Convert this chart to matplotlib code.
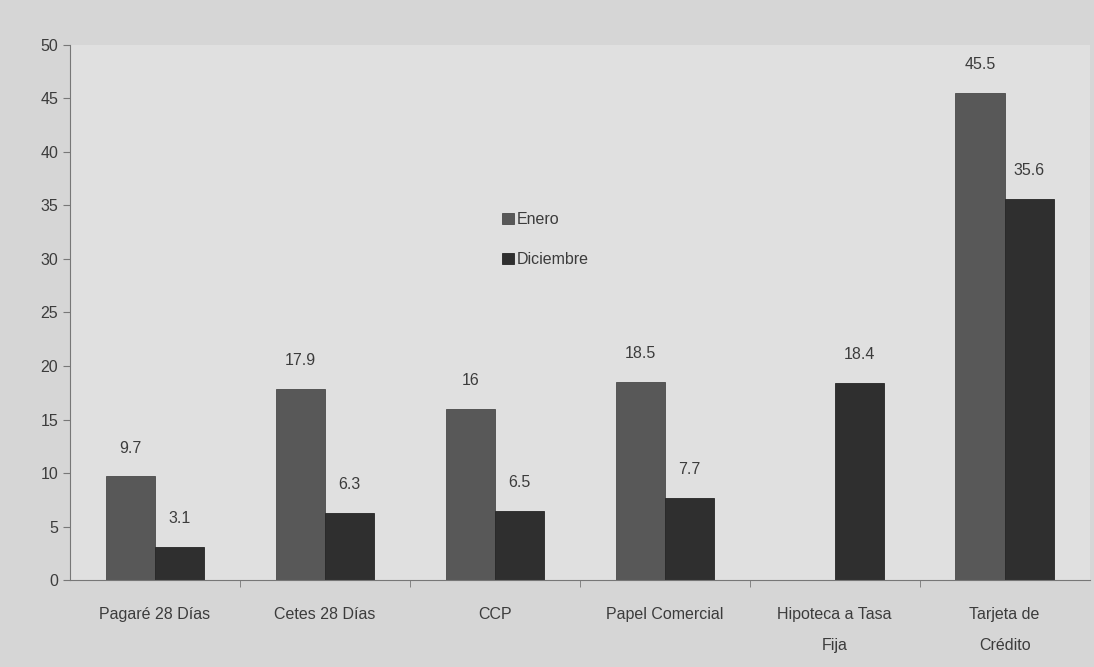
import numpy as np
import matplotlib.pyplot as plt

categories = ["Pagaré 28 Días", "Cetes 28 Días", "CCP", "Papel Comercial",
              "Hipoteca a Tasa\nFija", "Tarjeta de\nCrédito"]
enero = [9.7, 17.9, 16, 18.5, np.nan, 45.5]
diciembre = [3.1, 6.3, 6.5, 7.7, 18.4, 35.6]
enero_labels = ["9.7", "17.9", "16", "18.5", "", "45.5"]
diciembre_labels = ["3.1", "6.3", "6.5", "7.7", "18.4", "35.6"]

plt.rcParams['font.family'] = ['Liberation Sans', 'DejaVu Sans']

fig = plt.figure(figsize=(10.94, 6.67), dpi=100, facecolor='#d6d6d6')
ax = fig.add_axes([0.064, 0.13, 0.932, 0.803])
ax.set_facecolor('#e0e0e0')

x = np.arange(len(categories))
w = 0.29
b1 = ax.bar(x - w / 2, enero, w, color='#585858', edgecolor='#4a4a4a', linewidth=0.6, label='Enero')
b2 = ax.bar(x + w / 2, diciembre, w, color='#2f2f2f', edgecolor='#262626', linewidth=0.6, label='Diciembre')

# value labels above the bars
for bars, labels in [(b1, enero_labels), (b2, diciembre_labels)]:
    for rect, lab in zip(bars, labels):
        if lab:
            ax.annotate(lab, (rect.get_x() + rect.get_width() / 2, rect.get_height()),
                        xytext=(0, 15), textcoords='offset points', ha='center', va='bottom',
                        fontsize=11.5, color='#3c3c3c')

ax.set_xlim(-0.5, len(categories) - 0.5)
ax.set_ylim(0, 50)
ax.set_yticks(range(0, 51, 5))
ax.set_xticks(x)
ax.set_xticklabels(categories, fontsize=11.5, color='#3c3c3c', linespacing=2.4)
ax.set_xticks(np.arange(0.5, len(categories) - 0.5, 1), minor=True)
ax.tick_params(axis='x', which='major', length=0, pad=19)
ax.tick_params(axis='x', which='minor', length=5, color='#777777')
ax.tick_params(axis='y', length=5, color='#777777', labelsize=11.5, labelcolor='#3c3c3c')

for s in ['top', 'right']:
    ax.spines[s].set_visible(False)
for s in ['left', 'bottom']:
    ax.spines[s].set_color('#777777')

ax.legend(loc='upper left', bbox_to_anchor=(0.41, 0.715), frameon=False, fontsize=11.5,
          handlelength=0.7, handleheight=0.7, handletextpad=0.2, labelspacing=1.6,
          labelcolor='#3c3c3c')

fig.savefig('out.png', dpi=100, facecolor=fig.get_facecolor())
